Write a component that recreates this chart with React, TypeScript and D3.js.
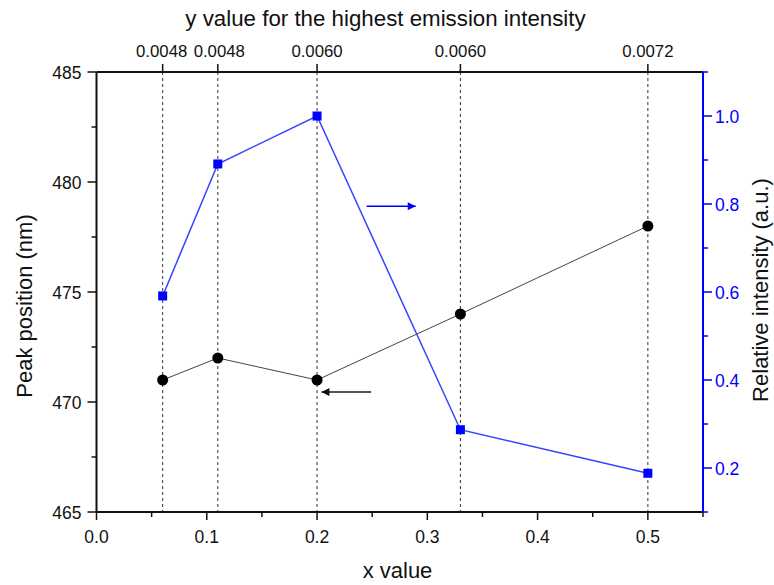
import React from "react";
import * as d3 from "d3";

const xValues = [0.06, 0.11, 0.2, 0.33, 0.5];
const peakPosition = [471, 472, 471, 474, 478];
const relIntensity = [0.591, 0.891, 1.0, 0.287, 0.188];
const topLabels = ["0.0048", "0.0048", "0.0060", "0.0060", "0.0072"];
const xTicks = [0, 0.1, 0.2, 0.3, 0.4, 0.5];
const xMinor = [0.05, 0.15, 0.25, 0.35, 0.45, 0.55];
const leftTicks = [465, 470, 475, 480, 485];
const leftMinor = [467.5, 472.5, 477.5, 482.5];
const rightTicks = [0.2, 0.4, 0.6, 0.8, 1.0];
const rightMinor = [0.1, 0.3, 0.5, 0.7, 0.9, 1.1];

const W = 774, H = 585;
const L = 96.5, R = 703, T = 72, B = 512;
const FONT = "'Liberation Sans', Arial, sans-serif";
const BLUE = "#0000ff";
const TS = 17.5;

export default function App() {
  const x = d3.scaleLinear().domain([0, 0.55]).range([L, R]);
  const yL = d3.scaleLinear().domain([465, 485]).range([B, T]);
  const yR = d3.scaleLinear().domain([0.1, 1.1]).range([B, T]);

  const blackLine = d3.line<number>().x((_, i) => x(xValues[i])).y((d) => yL(d));
  const blueLine = d3.line<number>().x((_, i) => x(xValues[i])).y((d) => yR(d));

  return (
    <svg width={W} height={H} style={{ position: "absolute", left: 0, top: 0, background: "#fff" }} fontFamily={FONT}>
      <defs>
        <marker id="ab" viewBox="0 0 10 10" refX="10" refY="5" markerWidth="10" markerHeight="8" markerUnits="userSpaceOnUse" orient="auto">
          <path d="M0,0 L10,5 L0,10 z" fill={BLUE} />
        </marker>
        <marker id="ak" viewBox="0 0 10 10" refX="10" refY="5" markerWidth="10" markerHeight="8" markerUnits="userSpaceOnUse" orient="auto">
          <path d="M0,0 L10,5 L0,10 z" fill="#111" />
        </marker>
      </defs>
      <rect width={W} height={H} fill="#fff" />
      {/* dashed verticals */}
      {xValues.map((v, i) => (
        <line key={"dv" + i} x1={x(v)} x2={x(v)} y1={T} y2={B} stroke="#333" strokeWidth={1} strokeDasharray="3,3" />
      ))}
      {/* bottom axis */}
      <line x1={L} x2={R} y1={B} y2={B} stroke="#111" strokeWidth={2} />
      {xTicks.map((t) => (
        <g key={"xt" + t}>
          <line x1={x(t)} x2={x(t)} y1={B} y2={B + 8} stroke="#111" strokeWidth={1.5} />
          <text x={x(t)} y={B + 31} textAnchor="middle" fontSize={TS} fill="#111">{t.toFixed(1)}</text>
        </g>
      ))}
      {xMinor.map((t) => (
        <line key={"xm" + t} x1={x(t)} x2={x(t)} y1={B} y2={B + 5} stroke="#111" strokeWidth={1.5} />
      ))}
      <text x={397.5} y={578} textAnchor="middle" fontSize={22} fill="#111">x value</text>
      {/* top axis */}
      <line x1={L} x2={R} y1={T} y2={T} stroke="#111" strokeWidth={2} />
      {xValues.map((v, i) => (
        <g key={"tt" + i}>
          <line x1={x(v)} x2={x(v)} y1={T} y2={T - 8} stroke="#111" strokeWidth={1.5} />
          <text x={x(v) + (i === 1 ? 1.5 : i === 0 ? -1 : 0)} y={T - 15} textAnchor="middle" fontSize={16.8} fill="#111">{topLabels[i]}</text>
        </g>
      ))}
      <text x={385.5} y={26} textAnchor="middle" fontSize={22.3} fill="#111">y value for the highest emission intensity</text>
      {/* left axis */}
      <line x1={L} x2={L} y1={T} y2={B} stroke="#111" strokeWidth={2} />
      {leftTicks.map((t) => (
        <g key={"lt" + t}>
          <line x1={L} x2={L - 9} y1={yL(t)} y2={yL(t)} stroke="#111" strokeWidth={1.5} />
          <text x={L - 15} y={yL(t) + 6.5} textAnchor="end" fontSize={TS} fill="#111">{t}</text>
        </g>
      ))}
      {leftMinor.map((t) => (
        <line key={"lm" + t} x1={L} x2={L - 5} y1={yL(t)} y2={yL(t)} stroke="#111" strokeWidth={1.5} />
      ))}
      <text transform={`translate(32,306) rotate(-90)`} textAnchor="middle" fontSize={22} fill="#111">Peak position (nm)</text>
      {/* right axis */}
      <line x1={R} x2={R} y1={T} y2={B} stroke={BLUE} strokeWidth={2} />
      {rightTicks.map((t) => (
        <g key={"rt" + t}>
          <line x1={R} x2={R + 9} y1={yR(t)} y2={yR(t)} stroke={BLUE} strokeWidth={1.5} />
          <text x={R + 12} y={yR(t) + 6.5} textAnchor="start" fontSize={TS} fill={BLUE}>{t.toFixed(1)}</text>
        </g>
      ))}
      {rightMinor.map((t) => (
        <line key={"rm" + t} x1={R} x2={R + 5} y1={yR(t)} y2={yR(t)} stroke={BLUE} strokeWidth={1.5} />
      ))}
      <text transform={`translate(768,290) rotate(-90)`} textAnchor="middle" fontSize={22} fill="#111">Relative intensity (a.u.)</text>
      {/* data lines */}
      <path d={blackLine(peakPosition) || ""} fill="none" stroke="#444" strokeWidth={1} />
      <path d={blueLine(relIntensity) || ""} fill="none" stroke="#3344ff" strokeWidth={1.5} />
      {peakPosition.map((v, i) => (
        <circle key={"c" + i} cx={x(xValues[i])} cy={yL(v)} r={5.5} fill="#000" />
      ))}
      {relIntensity.map((v, i) => (
        <rect key={"s" + i} x={x(xValues[i]) - 4.5} y={yR(v) - 4.5} width={9} height={9} fill={BLUE} />
      ))}
      {/* arrows */}
      <line x1={x(0.245)} x2={x(0.2895)} y1={yR(0.795)} y2={yR(0.795)} stroke={BLUE} strokeWidth={1.5} markerEnd="url(#ab)" />
      <line x1={x(0.249)} x2={x(0.204)} y1={yL(470.45)} y2={yL(470.45)} stroke="#555" strokeWidth={2} markerEnd="url(#ak)" />
    </svg>
  );
}
